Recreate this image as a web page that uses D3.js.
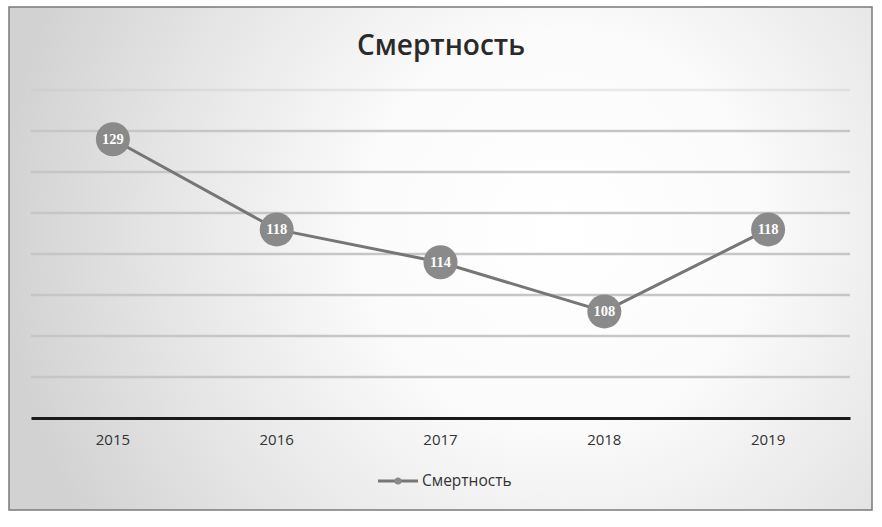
<!DOCTYPE html>
<html>
<head>
<meta charset="utf-8">
<script src="https://cdn.jsdelivr.net/npm/d3@7"></script>
<style>
  html, body { margin: 0; padding: 0; background: #ffffff; }
  svg { display: block; }
</style>
</head>
<body>
<svg id="chart" width="882" height="527"></svg>
<script>
// Mortality by year
const years = ["2015", "2016", "2017", "2018", "2019"];
const deaths = [129, 118, 114, 108, 118];
const gridValues = [100, 105, 110, 115, 120, 125, 130, 135];
const seriesName = "Смертность";
const titleText = "Смертность";

const W = 882, H = 527;
const svg = d3.select("#chart");
const defs = svg.append("defs");

// Soft radial backdrop for the chart area
const grad = defs.append("radialGradient")
  .attr("id", "bg").attr("gradientUnits", "userSpaceOnUse")
  .attr("cx", 560).attr("cy", 230).attr("r", 560);
[[0, "#ffffff"], [0.35, "#fbfbfb"], [0.7, "#e6e6e6"], [1, "#d2d2d2"]].forEach(([o, c]) =>
  grad.append("stop").attr("offset", o).attr("stop-color", c));

const frame = { x: 9, y: 7, w: 863, h: 503 };
svg.append("rect")
  .attr("x", frame.x).attr("y", frame.y).attr("width", frame.w).attr("height", frame.h)
  .attr("fill", "url(#bg)").attr("stroke", "#7a7a7a").attr("stroke-width", 1.5);

const plot = { left: 31, right: 850, top: 90, bottom: 418 };

const x = d3.scaleBand().domain(years).range([plot.left, plot.right]);
const y = d3.scaleLinear().domain([95, 135]).range([plot.bottom, plot.top]);
const cx = d => x(d) + x.bandwidth() / 2;

// Horizontal gridlines
svg.append("g")
  .selectAll("line").data(gridValues).join("line")
  .attr("x1", plot.left).attr("x2", plot.right)
  .attr("y1", d => y(d)).attr("y2", d => y(d))
  .attr("stroke", "#c6c6c6")
  .attr("stroke-width", 2.5)
  .attr("opacity", d => d === 135 ? 0.35 : 1);

// Category axis
const xAxis = svg.append("g")
  .attr("transform", `translate(0,${plot.bottom})`)
  .call(d3.axisBottom(x).tickSize(0).tickPadding(16));
xAxis.select(".domain").attr("stroke", "#1a1a1a").attr("stroke-width", 3);
xAxis.selectAll("text")
  .attr("font-family", "'Open Sans', 'DejaVu Sans', sans-serif")
  .attr("font-size", 15).attr("font-weight", 500).attr("fill", "#333333");

// Title
svg.append("text")
  .attr("x", 441).attr("y", 55)
  .attr("text-anchor", "middle")
  .attr("font-family", "'Open Sans', 'DejaVu Sans', sans-serif")
  .attr("font-weight", 600).attr("font-size", 28)
  .attr("fill", "#2a2a2a")
  .text(titleText);

// Series line
const pts = years.map((yr, i) => ({ year: yr, value: deaths[i] }));
svg.append("path")
  .datum(pts)
  .attr("fill", "none").attr("stroke", "#767676").attr("stroke-width", 3)
  .attr("d", d3.line().x(d => cx(d.year)).y(d => y(d.value)));

// Markers with value labels
const marks = svg.append("g").selectAll("g").data(pts).join("g")
  .attr("transform", d => `translate(${cx(d.year)},${y(d.value)})`);
marks.append("circle").attr("r", 17).attr("fill", "#8a8a8a");
marks.append("text")
  .attr("text-anchor", "middle").attr("dy", "0.35em")
  .attr("font-family", "'Liberation Serif', 'DejaVu Serif', serif")
  .attr("font-weight", 700).attr("font-size", 14.5)
  .attr("fill", "#ffffff")
  .text(d => d.value);

// Legend
const lg = svg.append("g").attr("transform", "translate(378,481)");
lg.append("line").attr("x1", 0).attr("x2", 40).attr("y1", 0).attr("y2", 0)
  .attr("stroke", "#767676").attr("stroke-width", 3);
lg.append("circle").attr("cx", 20).attr("r", 3.5).attr("fill", "#8a8a8a");
lg.append("text")
  .attr("x", 44).attr("dy", "0.35em")
  .attr("font-family", "'Open Sans', 'DejaVu Sans', sans-serif")
  .attr("font-size", 15.5).attr("fill", "#333333")
  .text(seriesName);
</script>
</body>
</html>
